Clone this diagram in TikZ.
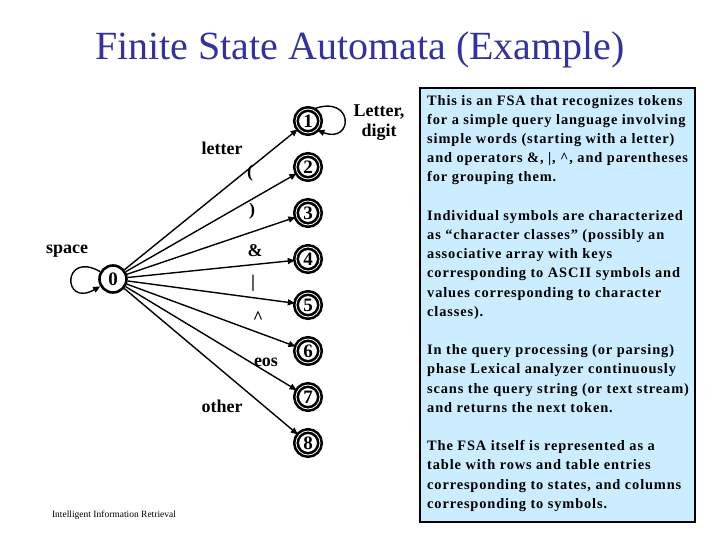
\documentclass[tikz,border=0pt]{standalone}
\usepackage{fontspec}
\setmainfont{Liberation Serif}
\usetikzlibrary{arrows.meta}
\definecolor{titleblue}{RGB}{51,51,153}
\definecolor{boxblue}{RGB}{204,236,255}
\tikzset{
  accept/.style={circle, draw=black, line width=2.6pt, double=white, double distance=0.8pt, minimum size=24pt, inner sep=0pt, font=\bfseries\fontsize{19}{19}\selectfont},
  start/.style={circle, draw=black, line width=2.6pt, minimum size=27pt, inner sep=0pt, font=\bfseries\fontsize{19}{19}\selectfont},
  edge/.style={line width=1.4pt, -{Triangle[length=7pt,width=6pt]}},
  lbl/.style={font=\bfseries\fontsize{18}{18}\selectfont, inner sep=0pt}
}
\begin{document}
\begin{tikzpicture}[x=1pt,y=-1pt]
\useasboundingbox (0,0) rectangle (720,540);
\node[titleblue, font=\fontsize{40}{40}\selectfont] (title) at (360,50) {Finite State Automata (Example)};
% states
\node[start] (s0) at (113,279) {0};
\foreach \i/\y in {1/121,2/167,3/213,4/259,5/305,6/351,7/397,8/443}{
  \node[accept] (s\i) at (308,\y) {\i};
}
\foreach \i in {1,...,8}{
  \draw[edge] (s0) -- (s\i);
}
\draw[edge] (s0.150) .. controls (62,250) and (62,308) .. (s0.210);
\draw[edge] (s1.65) .. controls (354,94) and (354,144) .. (s1.-45);
% labels
\node[lbl] (lletter) at (222,148) {letter};
\node[lbl] (lpo) at (250,173) {(};
\node[lbl] (lpc) at (252,211) {)};
\node[lbl] (lamp) at (255,251) {\&};
\node[lbl] (lbar) at (253,283) {|};
\node[lbl] (lhat) at (258,318) {\textasciicircum};
\node[lbl] (leos) at (266,362) {eos};
\node[lbl] (lother) at (222,406) {other};
\node[lbl] (lspace) at (67,251) {space};
\node[lbl, align=center] (ldig) at (379,123) {Letter,\\[2pt]digit};
% text box
\node[draw=black, line width=1.8pt, fill=boxblue, minimum width=275pt, minimum height=434pt, anchor=north west, inner sep=0pt] (box) at (419,87) {};
\node[anchor=north west, align=left, inner sep=0pt, font=\bfseries\fontsize{14.4}{19.2}\selectfont\addfontfeature{LetterSpace=6}] (txt) at (427,95) {%
This is an FSA that recognizes tokens\\
for a simple query language involving\\
simple words (starting with a letter)\\
and operators \&, |, \textasciicircum, and parentheses\\
for grouping them.\\[19.2pt]
Individual symbols are characterized\\
as “character classes” (possibly an\\
associative array with keys\\
corresponding to ASCII symbols and\\
values corresponding to character\\
classes).\\[19.2pt]
In the query processing (or parsing)\\
phase Lexical analyzer continuously\\
scans the query string (or text stream)\\
and returns the next token.\\[19.2pt]
The FSA itself is represented as a\\
table with rows and table entries\\
corresponding to states, and columns\\
corresponding to symbols.};
\node[font=\fontsize{9.5}{9.5}\selectfont] (foot) at (114,515) {Intelligent Information Retrieval};
\end{tikzpicture}
\end{document}
